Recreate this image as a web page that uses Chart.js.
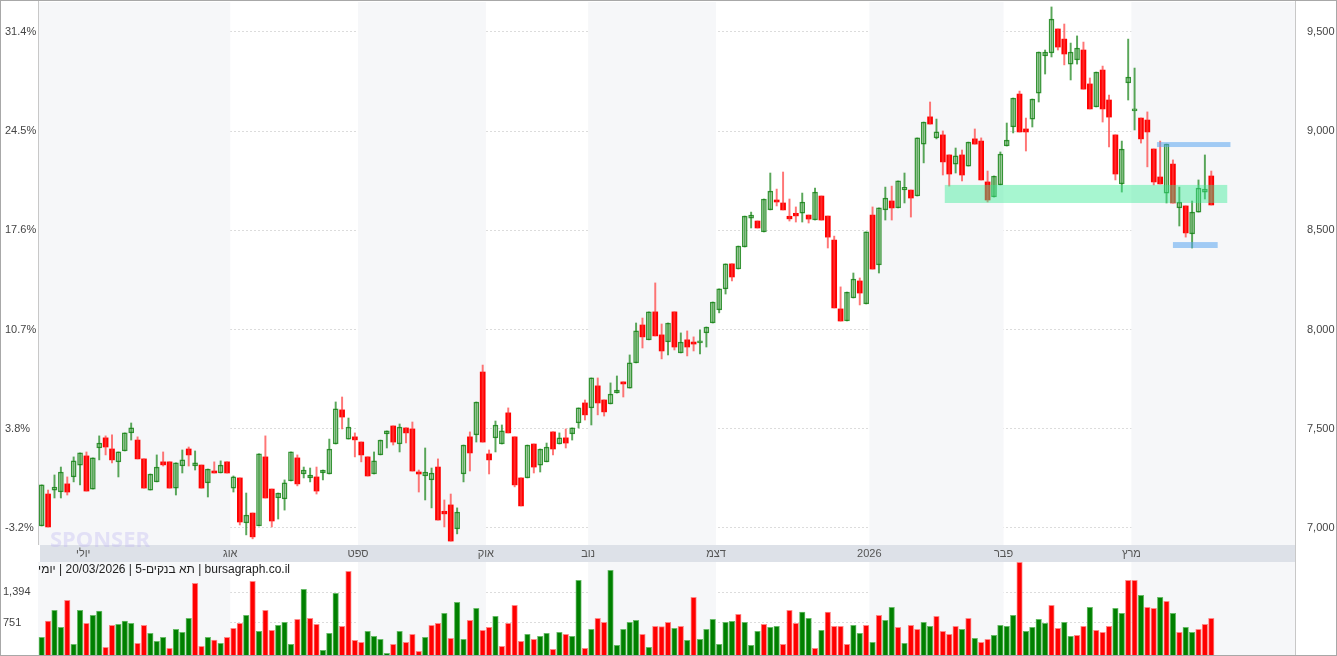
<!DOCTYPE html>
<html>
<head>
<meta charset="utf-8">
<script src="https://cdn.jsdelivr.net/npm/chart.js@4"></script>
<style>
  body { margin: 0; background: #fff; font-family: "Liberation Sans", Arial, sans-serif; }
  #wrap { position: relative; width: 1337px; height: 656px; overflow: hidden; }
  #chartPrice { position: absolute; left: 0; top: 0; }
  #chartVol { position: absolute; left: 0; top: 562px; }
  #frame { position: absolute; left: 0; top: 0; width: 1335px; height: 654px; border: 1px solid #a8a8a8; pointer-events: none; }
  #rline { position: absolute; left: 1295px; top: 0; width: 1px; height: 656px; background: #c8c8c8; }
  #lline { position: absolute; left: 38px; top: 0; width: 1px; height: 545px; background: #c8c8c8; }
</style>
</head>
<body>
<div id="wrap">
  <canvas id="chartPrice" width="1337" height="562"></canvas>
  <canvas id="chartVol" width="1337" height="94"></canvas>
  <div id="rline"></div>
  <div id="lline"></div>
  <div id="frame"></div>
</div>
<script>
const opens = [7010,7171,7191,7181,7222,7257,7317,7363,7196,7403,
7454,7398,7333,7388,7479,7443,7348,7191,7232,7333,
7333,7201,7312,7398,7312,7317,7227,7287,7277,7333,
7201,7252,7025,7075,7010,7358,7196,7151,7146,7237,
7353,7272,7252,7257,7277,7272,7423,7595,7448,7459,
7433,7358,7272,7368,7474,7514,7423,7504,7499,7282,
7262,7242,7307,7080,7116,6995,7272,7459,7469,7786,
7373,7454,7423,7580,7459,7252,7252,7423,7317,7333,
7484,7423,7454,7474,7529,7630,7605,7716,7645,7625,
7680,7736,7705,7832,8023,7948,8089,7973,7938,8089,
7882,7948,7937,7932,7983,8033,8099,8205,8331,8305,
8416,8562,8547,8492,8603,8653,8638,8567,8582,8587,
8577,8552,8673,8572,8451,8104,8043,8159,8245,8129,
8577,8326,8603,8648,8613,8708,8703,8673,8935,9072,
8966,8981,8880,8834,8880,8824,8961,8950,8744,8668,
8729,8925,9021,9187,9011,9061,9192,9379,9394,9515,
9464,9338,9359,9409,9238,9122,9308,9157,8981,8734,
9243,9102,9066,9056,8910,8769,8688,8834,8613,8623,
8482,8592,8693,8774];
const highs = [7217,7191,7267,7307,7257,7358,7378,7383,7353,7464,
7464,7469,7383,7479,7529,7459,7348,7272,7368,7383,
7333,7328,7393,7408,7388,7317,7297,7333,7338,7333,
7262,7252,7176,7075,7373,7464,7196,7176,7242,7383,
7368,7307,7302,7307,7292,7448,7635,7660,7554,7479,
7433,7358,7383,7443,7489,7514,7524,7504,7534,7292,
7403,7302,7348,7141,7171,7101,7418,7484,7635,7821,
7393,7539,7519,7605,7459,7252,7418,7423,7398,7428,
7484,7479,7499,7504,7605,7645,7756,7756,7645,7731,
7766,7736,7872,8033,8058,8089,8235,8028,8033,8089,
7983,7993,7963,7998,8013,8139,8205,8331,8331,8421,
8572,8592,8547,8658,8789,8708,8794,8658,8618,8688,
8577,8713,8673,8572,8471,8215,8189,8285,8260,8492,
8618,8613,8718,8723,8749,8789,8703,8966,9046,9147,
9061,9001,8880,8915,8905,8945,9011,8966,8799,8774,
8895,9041,9167,9202,9066,9162,9399,9409,9626,9515,
9540,9444,9480,9449,9268,9298,9328,9182,8981,8950,
9464,9318,9066,9097,8910,8950,8935,8855,8718,8623,
8648,8754,8880,8799];
const lows = [7010,7005,7151,7151,7166,7232,7217,7186,7196,7343,
7368,7328,7257,7388,7443,7348,7201,7191,7232,7312,
7201,7166,7277,7312,7292,7201,7156,7277,7277,7277,
7181,7015,6965,6945,7010,7151,7005,7045,7090,7237,
7212,7252,7232,7171,7242,7272,7423,7499,7448,7358,
7333,7262,7272,7368,7403,7418,7383,7428,7287,7181,
7141,7101,7040,7005,6934,6970,7232,7287,7433,7433,
7272,7383,7423,7479,7207,7111,7252,7277,7282,7333,
7368,7423,7403,7443,7504,7544,7519,7570,7564,7625,
7680,7660,7705,7832,7907,7948,7968,7852,7872,7897,
7882,7867,7892,7877,7912,8033,8084,8179,8245,8305,
8416,8512,8512,8492,8603,8623,8603,8547,8542,8542,
8537,8552,8552,8411,8109,8043,8043,8159,8124,8129,
8305,8285,8552,8552,8613,8638,8567,8673,8840,9036,
8961,8779,8723,8789,8749,8824,8935,8754,8643,8668,
8729,8925,8991,8996,8900,9021,9147,9288,9374,9409,
9334,9258,9338,9212,9112,9122,9046,8920,8754,8693,
9157,9006,8940,8820,8729,8734,8638,8638,8522,8466,
8411,8592,8658,8628];
const closes = [7217,7005,7206,7282,7181,7338,7378,7186,7353,7428,
7408,7343,7383,7479,7504,7348,7201,7272,7307,7318,
7201,7328,7343,7368,7328,7201,7297,7277,7317,7277,
7257,7030,7065,6955,7373,7151,7035,7176,7227,7383,
7222,7292,7267,7186,7292,7398,7600,7559,7509,7444,
7368,7262,7338,7443,7489,7433,7509,7479,7287,7272,
7282,7277,7040,7075,6934,7080,7418,7378,7635,7433,
7343,7519,7489,7479,7217,7111,7418,7307,7398,7408,
7398,7454,7428,7504,7605,7570,7756,7630,7585,7675,
7695,7726,7832,7993,7963,8089,7968,7892,8033,7912,
7937,7912,7927,7943,8013,8139,8205,8331,8265,8421,
8572,8577,8512,8658,8698,8643,8603,8562,8577,8643,
8557,8693,8552,8466,8109,8043,8189,8255,8184,8492,
8305,8613,8663,8613,8749,8713,8663,8966,9046,9036,
8996,8845,8784,8875,8779,8945,8935,8754,8653,8774,
8885,8955,9167,8996,8996,9162,9399,9399,9565,9424,
9389,9399,9419,9212,9112,9298,9112,9071,8784,8910,
9273,9112,8961,8996,8744,8734,8935,8638,8643,8487,
8592,8713,8708,8628];
const volumes = [443,786,1010,653,1220,296,1010,737,905,996,
233,695,716,786,737,317,695,527,359,443,
212,611,548,842,1577,254,443,387,317,443,
632,737,905,1619,569,1010,590,695,758,296,
821,1451,842,716,170,527,1367,674,1829,380,
338,569,464,401,107,296,569,338,506,149,
443,695,737,947,422,1178,401,800,1052,590,
653,884,254,737,1115,359,506,401,464,527,
191,548,506,464,1640,212,611,842,758,1850,
275,611,758,800,506,233,674,
667,758,632,674,380,1283,401,611,821,296,
758,779,926,758,275,569,716,653,674,296,
1010,737,975,842,212,590,975,674,674,296,
695,527,695,338,905,800,1073,653,317,695,
611,758,674,884,569,506,674,611,842,422,
338,401,485,695,674,905,2018,569,653,821,
737,1115,632,758,464,485,674,1073,590,548,
674,1052,947,1640,1640,1325,1073,1052,1283,1199,
947,548,653,548,611,716,842];
const volDir = "grggrggrggrrgggrrgggrgggrrgrgrrrgrgrrgggrgrrgggrrrrggggrgrrrgrrgrggrgrrgrrrrgrggrgrggrgrrgggggrgr" +
               "rrgrgrggggggrgggrggrrrggrgrrrrggrgrggrgrrggrrrrgrgrrggggrggggrrggrrgrrrggrrgrrgrgrggrr";
const pctLabels = ["-3.2%", "3.8%", "10.7%", "17.6%", "24.5%", "31.4%"];
const priceTicks = [7000, 7500, 8000, 8500, 9000, 9500];
const monthNames = ["יולי", "אוג", "ספט", "אוק", "נוב", "דצמ", "2026", "פבר", "מרץ"];
const monthStart = [8, 31, 51, 71, 87, 107, 131, 152, 172];
const volTicks = [751, 1394];

Chart.defaults.font.family = "'Liberation Sans', Arial, sans-serif";
const UP = "rgba(20,130,20,0.85)", UPW = "rgba(20,130,20,0.7)";
const DN = "#ff0000", DNW = "rgba(255,60,60,0.7)";
const idx = opens.map((_, i) => i + 1);
const isUp = idx.map((_, i) => closes[i] >= opens[i]);
const X_MIN = 0.42, X_MAX = 197.1;
const noPad = (w) => (s) => { s.width = w; s.paddingTop = 0; s.paddingBottom = 0; };

function bandPlugin(drawStrip) {
  return {
    id: "bands",
    beforeDatasetsDraw(chart) {
      const { ctx, chartArea: a, scales: { x } } = chart;
      ctx.save();
      for (let m = 0; m < monthStart.length; m += 2) {
        const x0 = m === 0 ? a.left : x.getPixelForValue(monthStart[m] - 0.5);
        const x1 = m + 1 < monthStart.length ? x.getPixelForValue(monthStart[m + 1] - 0.5) : a.right;
        ctx.fillStyle = "#f6f7f9";
        ctx.fillRect(x0, a.top, x1 - x0, a.bottom - a.top);
      }
      ctx.restore();
    },
    afterDraw(chart) {
      if (!drawStrip) return;
      const { ctx, chartArea: a, scales: { x } } = chart;
      ctx.save();
      ctx.fillStyle = "#dde1e8";
      ctx.fillRect(a.left + 2, a.bottom, a.right - a.left - 2, 17);
      ctx.fillStyle = "#555";
      ctx.font = "11px 'Liberation Sans', Arial, sans-serif";
      ctx.textAlign = "center";
      ctx.textBaseline = "middle";
      monthNames.forEach((n, i) => {
        ctx.fillText(n, x.getPixelForValue(monthStart[i] - 0.5), a.bottom + 9);
      });
      ctx.font = "bold 22px 'Noto Sans', sans-serif";
      ctx.fillStyle = "rgba(190,180,240,0.35)";
      ctx.textAlign = "left";
      ctx.fillText("SPONSER", 50, a.bottom - 4);
      ctx.restore();
    },
  };
}

const zonePlugin = {
  id: "zones",
  afterDatasetsDraw(chart) {
    const { ctx, scales: { x, y } } = chart;
    const rect = (i0, i1, p0, p1, c) => {
      const x0 = x.getPixelForValue(i0), x1 = x.getPixelForValue(i1);
      const y0 = y.getPixelForValue(p1), y1 = y.getPixelForValue(p0);
      ctx.fillStyle = c;
      ctx.fillRect(x0, y0, x1 - x0, y1 - y0);
    };
    ctx.save();
    rect(142.3, 186.5, 8638, 8729, "rgba(60,235,150,0.45)");
    rect(175.5, 187, 8920, 8945, "rgba(90,165,240,0.55)");
    rect(178, 185, 8411, 8441, "rgba(90,165,240,0.55)");
    ctx.restore();
  },
};

new Chart(document.getElementById("chartPrice"), {
  type: "bar",
  data: {
    datasets: [
      {
        label: "wick",
        data: idx.map((i, k) => ({ x: i, y: [lows[k], highs[k]] })),
        backgroundColor: isUp.map((u) => (u ? UPW : DNW)),
        barThickness: 1.3,
        grouped: false,
      },
      {
        label: "body",
        data: idx.map((i, k) => {
          let lo = Math.min(opens[k], closes[k]), hi = Math.max(opens[k], closes[k]);
          if (hi - lo < 8) { lo -= 4; hi += 4; }
          return { x: i, y: [lo, hi] };
        }),
        backgroundColor: isUp.map((u) => (u ? "#ffffff" : DN)),
        borderColor: isUp.map((u) => (u ? UP : DN)),
        borderWidth: isUp.map((u) => (u ? 1.5 : 0)),
        borderSkipped: false,
        barThickness: 5,
        grouped: false,
      },
    ],
  },
  options: {
    responsive: false,
    animation: false,
    layout: { padding: { top: 2, bottom: 17, left: 5, right: 0 } },
    plugins: { legend: { display: false }, tooltip: { enabled: false } },
    scales: {
      x: { type: "linear", min: X_MIN, max: X_MAX, offset: false, display: false },
      y: {
        position: "right",
        min: 6914, max: 9651,
        afterBuildTicks: (s) => { s.ticks = priceTicks.map((v) => ({ value: v })); },
        afterFit: noPad(42),
        grid: { color: "#dcdcdc", drawTicks: false },
        border: { display: false, dash: [2, 2] },
        ticks: { padding: 12, color: "#444", font: { size: 11 }, callback: (v) => v.toLocaleString("en-US") },
      },
      yl: {
        position: "left",
        min: 6914, max: 9651,
        afterBuildTicks: (s) => { s.ticks = priceTicks.map((v) => ({ value: v })); },
        afterFit: noPad(33),
        grid: { display: false, drawTicks: false },
        border: { display: false },
        ticks: { crossAlign: "far", padding: 2, color: "#444", font: { size: 11 }, callback: (v, i) => pctLabels[i] },
      },
    },
  },
  plugins: [bandPlugin(true), zonePlugin],
});

const titlePlugin = {
  id: "title",
  afterDraw(chart) {
    const { ctx } = chart;
    ctx.save();
    ctx.direction = "rtl";
    ctx.textAlign = "right";
    ctx.textBaseline = "middle";
    ctx.fillStyle = "#222";
    ctx.font = "12px 'Liberation Sans', Arial, sans-serif";
    ctx.fillText("bursagraph.co.il | תא בנקים-5 | 20/03/2026 | יומי", 290, 8);
    ctx.restore();
  },
};

new Chart(document.getElementById("chartVol"), {
  type: "bar",
  data: {
    datasets: [{
      data: idx.map((i, k) => ({ x: i, y: volumes[k] })),
      backgroundColor: idx.map((_, k) => (volDir[k] === "g" ? "#008000" : "#ff0000")),
      borderColor: idx.map((_, k) => (volDir[k] === "g" ? "#66bb66" : "#ff8888")),
      borderWidth: 1,
      borderSkipped: "bottom",
      barThickness: 5.5,
    }],
  },
  options: {
    responsive: false,
    animation: false,
    layout: { padding: { right: 42, top: 0, bottom: 1, left: 3 } },
    plugins: { legend: { display: false }, tooltip: { enabled: false } },
    scales: {
      x: { type: "linear", min: X_MIN, max: X_MAX, offset: false, display: false },
      y: {
        position: "left",
        min: 72, max: 2025,
        afterBuildTicks: (s) => { s.ticks = volTicks.map((v) => ({ value: v })); },
        afterFit: noPad(35),
        grid: { color: "#dcdcdc", drawTicks: false },
        border: { display: false, dash: [2, 2] },
        ticks: { crossAlign: "far", padding: 4, color: "#444", font: { size: 11 }, callback: (v) => v.toLocaleString("en-US") },
      },
    },
  },
  plugins: [bandPlugin(false), titlePlugin],
});
</script>
</body>
</html>
